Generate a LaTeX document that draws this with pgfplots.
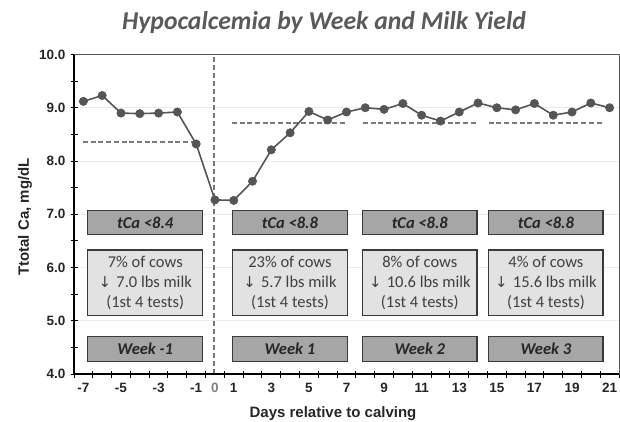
\documentclass[border=0pt]{standalone}
\usepackage{pgfplots}
\pgfplotsset{compat=1.18}
\usepackage{fontspec}
\setmainfont{Carlito}
\newfontfamily\arialf{Liberation Sans}
\newfontfamily\symf{DejaVu Sans}
\definecolor{linegray}{HTML}{555555}
\definecolor{dashgray}{HTML}{7A7A7A}
\definecolor{vgray}{HTML}{777777}
\definecolor{boxdark}{HTML}{A6A6A6}
\definecolor{boxlight}{HTML}{E2E2E2}
\definecolor{boxedge}{HTML}{3A3A3A}
\definecolor{txtdark}{HTML}{262626}
\definecolor{txtmid}{HTML}{404040}
\definecolor{titlegray}{HTML}{5A5A5A}
\definecolor{gridgray}{HTML}{EBEBEB}
\definecolor{framegray}{HTML}{595959}

\begin{document}
\begin{tikzpicture}[x=1pt,y=1pt]
\begin{axis}[
  scale only axis,
  width=545pt, height=319.5pt,
  at={(74pt,47pt)}, anchor=south west,
  xmin=-7.5, xmax=21.5, ymin=4, ymax=10,
  clip=false,
  axis line style={draw=framegray, line width=1pt},
  xtick={-7,...,21},
  xticklabels={-7,,-5,,-3,,-1,{\color{gray}0},1,,3,,5,,7,,9,,11,,13,,15,,17,,19,,21},
  minor xtick={-7.5,-6.5,...,21.5},
  ytick={4,5,...,10},
  minor ytick={4,4.5,...,10},
  major tick length=0pt,
  minor tick length=7pt,
  tick align=center,
  tick pos=left,
  minor tick style={black, line width=1pt},
  ymajorgrids,
  major grid style={gridgray, line width=0.8pt},
  /pgf/number format/assume math mode=true,
  yticklabel={\pgfmathprintnumber[fixed,fixed zerofill,precision=1]{\tick}},
  ticklabel style={font=\fontsize{13.5}{15}\selectfont\arialf\bfseries, text=txtdark},
  xticklabel style={yshift=-6pt},
  yticklabel style={xshift=-5pt},
]
% boxes
\draw[fill=boxdark, draw=boxedge, line width=1.3pt] (axis cs:-6.77,6.62) rectangle (axis cs:-0.65,7.07);
\draw[fill=boxdark, draw=boxedge, line width=1.3pt] (axis cs:0.92,6.62) rectangle (axis cs:7.06,7.07);
\draw[fill=boxdark, draw=boxedge, line width=1.3pt] (axis cs:7.84,6.62) rectangle (axis cs:13.95,7.07);
\draw[fill=boxdark, draw=boxedge, line width=1.3pt] (axis cs:14.57,6.62) rectangle (axis cs:20.65,7.07);
\draw[fill=boxlight, draw=boxedge, line width=1.3pt] (axis cs:-6.77,5.10) rectangle (axis cs:-0.65,6.33);
\draw[fill=boxlight, draw=boxedge, line width=1.3pt] (axis cs:0.92,5.10) rectangle (axis cs:7.06,6.33);
\draw[fill=boxlight, draw=boxedge, line width=1.3pt] (axis cs:7.84,5.10) rectangle (axis cs:13.95,6.33);
\draw[fill=boxlight, draw=boxedge, line width=1.3pt] (axis cs:14.57,5.10) rectangle (axis cs:20.65,6.33);
\draw[fill=boxdark, draw=boxedge, line width=1.3pt] (axis cs:-6.77,4.23) rectangle (axis cs:-0.65,4.70);
\draw[fill=boxdark, draw=boxedge, line width=1.3pt] (axis cs:0.92,4.23) rectangle (axis cs:7.06,4.70);
\draw[fill=boxdark, draw=boxedge, line width=1.3pt] (axis cs:7.84,4.23) rectangle (axis cs:13.95,4.70);
\draw[fill=boxdark, draw=boxedge, line width=1.3pt] (axis cs:14.57,4.23) rectangle (axis cs:20.65,4.70);
% box texts
\tikzset{bt/.style={font=\fontsize{16.5}{18}\selectfont\bfseries\itshape, text=txtdark},
         mt/.style={font=\fontsize{16.5}{20}\selectfont, text=txtmid, align=center}}
\node[bt] at (axis cs:-3.71,6.845) {tCa <8.4};
\node[bt] at (axis cs:3.99,6.845) {tCa <8.8};
\node[bt] at (axis cs:10.9,6.845) {tCa <8.8};
\node[bt] at (axis cs:17.61,6.845) {tCa <8.8};
\node[mt] at (axis cs:-3.71,5.715) {7\% of cows\\{\symf\fontsize{15}{20}\selectfont ↓}\hspace{1.5pt} 7.0 lbs milk\\(1st 4 tests)};
\node[mt] at (axis cs:3.99,5.715) {23\% of cows\\{\symf\fontsize{15}{20}\selectfont ↓}\hspace{1.5pt} 5.7 lbs milk\\(1st 4 tests)};
\node[mt] at (axis cs:10.9,5.715) {8\% of cows\\{\symf\fontsize{15}{20}\selectfont ↓}\hspace{1.5pt} 10.6 lbs milk\\(1st 4 tests)};
\node[mt] at (axis cs:17.61,5.715) {4\% of cows\\{\symf\fontsize{15}{20}\selectfont ↓}\hspace{1.5pt} 15.6 lbs milk\\(1st 4 tests)};
\node[bt] at (axis cs:-3.71,4.465) {Week -1};
\node[bt] at (axis cs:3.99,4.465) {Week 1};
\node[bt] at (axis cs:10.9,4.465) {Week 2};
\node[bt] at (axis cs:17.61,4.465) {Week 3};
% vertical dashed line at day 0
\addplot[vgray, line width=1.8pt, dash pattern=on 5pt off 3pt, forget plot] coordinates {(-0.05,4) (-0.05,10)};
% thresholds
\addplot[dashgray, line width=1.8pt, dash pattern=on 5pt off 2.7pt] coordinates {(-7.02,8.36) (-0.96,8.36)};
\addplot[dashgray, line width=1.8pt, dash pattern=on 5pt off 2.7pt] coordinates {(0.9,8.72) (7.0,8.72)};
\addplot[dashgray, line width=1.8pt, dash pattern=on 5pt off 2.7pt] coordinates {(7.87,8.72) (13.93,8.72)};
\addplot[dashgray, line width=1.8pt, dash pattern=on 5pt off 2.7pt] coordinates {(14.57,8.72) (20.64,8.72)};
% data
\addplot[linegray, line width=1.6pt, mark=*, mark size=4.2pt, mark options={fill=linegray, draw=linegray, line width=0.5pt}] coordinates {
(-7,9.12) (-6,9.23) (-5,8.90) (-4,8.89) (-3,8.90) (-2,8.92) (-1,8.32)
(0,7.27) (1,7.26) (2,7.62) (3,8.21) (4,8.53) (5,8.93) (6,8.77) (7,8.92)
(8,9.00) (9,8.97) (10,9.08) (11,8.86) (12,8.75) (13,8.92) (14,9.09)
(15,9.00) (16,8.96) (17,9.08) (18,8.86) (19,8.92) (20,9.09) (21,9.00)};
% left and bottom axis lines
\draw[black, line width=1.6pt] (rel axis cs:0,1) -- (rel axis cs:0,0) -- (rel axis cs:1,0);
\end{axis}
\node[anchor=base, font=\fontsize{25.7}{28}\selectfont\bfseries\itshape, text=titlegray] at (324pt,391pt) {Hypocalcemia by Week and Milk Yield};
\node[rotate=90, font=\fontsize{15}{17}\selectfont\arialf\bfseries, text=txtdark] at (25pt,204pt) {Ttotal Ca, mg/dL};
\node[anchor=base, font=\fontsize{15}{17}\selectfont\arialf\bfseries, text=txtdark] at (333pt,3.5pt) {Days relative to calving};
\pgfresetboundingbox
\useasboundingbox (0,0) rectangle (620pt,421pt);
\end{tikzpicture}
\end{document}
